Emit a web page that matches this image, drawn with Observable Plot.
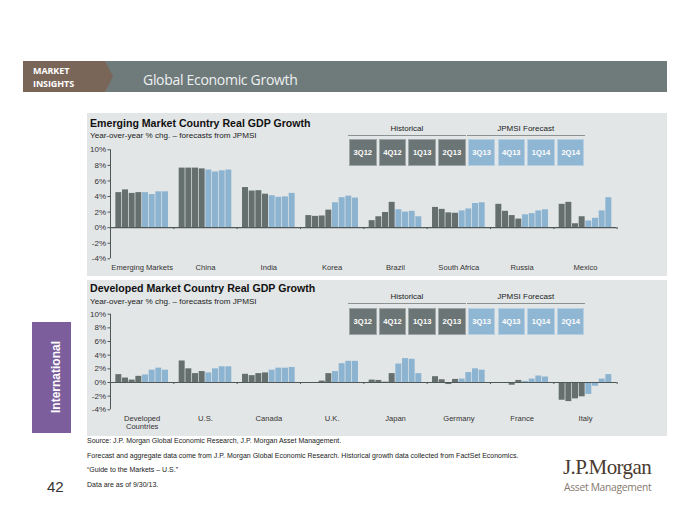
<!DOCTYPE html>
<html>
<head>
<meta charset="utf-8">
<script src="https://cdn.jsdelivr.net/npm/d3@7"></script>
<script src="https://cdn.jsdelivr.net/npm/@observablehq/plot@0.6"></script>
<style>
  html, body { margin: 0; padding: 0; background: #ffffff; }
  #page { position: relative; width: 700px; height: 525px; overflow: hidden; font-family: "Liberation Sans", Arial, sans-serif; color: #222; }
  .abs { position: absolute; }
  .panel { position: absolute; background: #e3e6e7; }
  .ptitle { position: absolute; font-weight: bold; font-size: 10.6px; color: #111; white-space: nowrap; }
  .psub { position: absolute; font-size: 8.1px; color: #222; white-space: nowrap; }
  .lghead { position: absolute; font-size: 8px; color: #222; text-align: center; border-bottom: 1.5px solid #8c9192; line-height: 10px; height: 11px; }
  .lgbox { position: absolute; color: #fff; font-weight: bold; font-size: 7.6px; display: flex; align-items: center; justify-content: center; box-sizing: border-box; border: 1px solid rgba(255,255,255,0.35); }
  .foot { position: absolute; left: 87px; font-size: 7px; line-height: 8px; color: #222; white-space: nowrap; }
  .mi { position: absolute; left: 33px; font-family: 'Open Sans', sans-serif; font-weight: bold; font-size: 9px; line-height: 12.5px; height: 12.5px; color: #fff; letter-spacing: -0.1px; white-space: nowrap; }
</style>
</head>
<body>
<div id="page"></div>
<script>
// ---------------- data ----------------
const quarters = ["3Q12", "4Q12", "1Q13", "2Q13", "3Q13", "4Q13", "1Q14", "2Q14"];
const historicalCount = 4; // 3Q12–2Q13 historical, rest JPMSI forecast
const legendGroups = ["Historical", "JPMSI Forecast"];

const emCountries = ["Emerging Markets", "China", "India", "Korea", "Brazil", "South Africa", "Russia", "Mexico"];
const emGrowth = [
  [4.5, 4.85, 4.4, 4.5, 4.5, 4.25, 4.6, 4.6],
  [7.65, 7.65, 7.65, 7.55, 7.4, 7.15, 7.3, 7.4],
  [5.15, 4.7, 4.75, 4.3, 4.1, 3.9, 3.95, 4.4],
  [1.55, 1.45, 1.5, 2.25, 3.2, 3.85, 4.05, 3.8],
  [0.9, 1.4, 1.95, 3.25, 2.3, 2.0, 2.1, 1.4],
  [2.6, 2.35, 1.9, 1.85, 2.15, 2.4, 3.1, 3.2],
  [3.0, 2.1, 1.55, 1.1, 1.65, 1.8, 2.15, 2.3],
  [3.0, 3.25, 0.5, 1.4, 0.85, 1.2, 2.15, 3.85]
];

const dmCountries = ["Developed\nCountries", "U.S.", "Canada", "U.K.", "Japan", "Germany", "France", "Italy"];
const dmGrowth = [
  [1.15, 0.65, 0.35, 0.9, 1.1, 1.8, 2.1, 1.8],
  [3.15, 2.0, 1.3, 1.6, 1.4, 2.0, 2.3, 2.3],
  [1.2, 1.0, 1.3, 1.4, 1.8, 2.1, 2.1, 2.2],
  [0.0, -0.1, 0.2, 1.3, 1.6, 2.75, 3.1, 3.1],
  [0.35, 0.3, 0.05, 1.3, 2.7, 3.5, 3.4, 1.3],
  [0.85, 0.4, -0.3, 0.45, 0.5, 1.45, 2.0, 1.8],
  [0.0, -0.15, -0.4, 0.3, 0.15, 0.5, 0.95, 0.8],
  [-2.6, -2.8, -2.4, -2.1, -1.75, -0.55, 0.5, 1.15]
];

const yTicks = [-4, -2, 0, 2, 4, 6, 8, 10];

const footnotes = [
  "Source: J.P. Morgan Global Economic Research, J.P. Morgan Asset Management.",
  "Forecast and aggregate data come from J.P. Morgan Global Economic Research. Historical growth data collected from FactSet Economics.",
  "\u201cGuide to the Markets \u2013 U.S.\u201d",
  "Data are as of 9/30/13."
];

// ---------------- styling ----------------
const HIST = "#646f6e";
const FCST = "#8cb4d1";
const AXIS = "#4f5757";
const SLOT = 9.5;   // 8 bars + 1.5 bar-widths of gap per country group
const PAD = 0.75;

const page = document.getElementById("page");
function el(tag, cls, style, html) {
  const e = document.createElement(tag);
  if (cls) e.className = cls;
  if (style) e.setAttribute("style", style);
  if (html != null) e.textContent = html;
  page.appendChild(e);
  return e;
}

// header band
el("div", "abs", "left:23px;top:61px;width:644px;height:31px;background:#6f7b7b;");
el("div", "abs", "left:23px;top:61px;width:90px;height:31px;background:#7a6559;clip-path:polygon(0 0,82px 0,90px 50%,82px 100%,0 100%);");
el("div", "mi", "top:65px;", "MARKET");
el("div", "mi", "top:78px;", "INSIGHTS");
el("div", "abs", "left:143px;top:71px;font-family:'Open Sans',sans-serif;font-size:14px;line-height:18px;color:#eef0f0;letter-spacing:-0.3px;", "Global Economic Growth");

// side tab & page number
el("div", "abs", "left:32px;top:322px;width:39px;height:111px;background:#7b5e9b;");
el("div", "abs", "left:52px;top:377px;transform:translate(-50%,-50%) rotate(-90deg);transform-origin:center;font-weight:bold;font-size:12px;color:#fff;white-space:nowrap;margin-left:4px;", "International");
el("div", "abs", "left:47px;top:478px;font-size:15px;color:#333;", "42");

// logo
el("div", "abs", "left:563px;top:455px;font-family:'Liberation Serif','Times New Roman',serif;font-size:21px;color:#4a3a31;letter-spacing:-0.6px;white-space:nowrap;", "J.P.Morgan");
el("div", "abs", "left:564px;top:480px;font-family:'Open Sans',sans-serif;font-size:10.3px;color:#85796f;letter-spacing:-0.3px;white-space:nowrap;", "Asset Management");

// footnotes
const footTops = [437, 452, 466, 481];
footnotes.forEach((t, i) => el("div", "foot", `top:${footTops[i]}px;`, t));

function legend(yHead, yBox) {
  const x0 = 349, step = 29.7, w = 27.6;
  legendGroups.forEach((g, gi) => {
    const left = x0 + gi * historicalCount * step - 1;
    el("div", "lghead", `left:${left}px;top:${yHead}px;width:${historicalCount * step - 1}px;`, g);
  });
  quarters.forEach((q, i) => {
    el("div", "lgbox", `left:${x0 + i * step}px;top:${yBox}px;width:${w}px;height:27px;background:${i < historicalCount ? "#6b7575" : "#8fb6d3"};`, q);
  });
}

function chart(countries, growth, opts) {
  const rows = countries.flatMap((c, g) => growth[g].map((v, q) => ({
    g, q, v, c, quarter: quarters[q],
    x1: g * SLOT + PAD + q,
    x2: g * SLOT + PAD + q + 1,
    kind: q < historicalCount ? "Historical" : "JPMSI Forecast"
  })));
  const centers = countries.map((c, g) => g * SLOT + SLOT / 2);
  const seps = d3.range(countries.length + 1).map(i => i * SLOT);
  const label = d => countries[Math.round((d - SLOT / 2) / SLOT)];
  return Plot.plot({
    width: 700,
    height: opts.height,
    marginLeft: 110,
    marginRight: 700 - 110 - 506.67,
    marginTop: opts.marginTop,
    marginBottom: opts.marginBottom,
    style: { background: "transparent", fontFamily: "'Liberation Sans', Arial, sans-serif", fontSize: "7.6px", color: "#333", overflow: "visible" },
    x: { type: "linear", domain: [0, countries.length * SLOT] },
    y: { domain: [-4, 10] },
    color: { domain: ["Historical", "JPMSI Forecast"], range: [HIST, FCST] },
    marks: [
      Plot.rectY(rows, { x1: "x1", x2: "x2", y1: 0, y2: "v", fill: "kind", insetLeft: 0.35, insetRight: 0.35 }),
      Plot.ruleY([0], { stroke: AXIS, strokeWidth: 1.2 }),
      Plot.ruleX(seps, { y1: 0, y2: opts.sepLen, stroke: AXIS, strokeWidth: 1 }),
      Plot.ruleX([0], { y1: -4, y2: 10, stroke: AXIS, strokeWidth: 1 }),
      Plot.axisY(yTicks, { tickFormat: d => d + "%", tickSize: 2.5, tickPadding: 2, stroke: AXIS, fontSize: 8, label: null }),
      Plot.axisX(centers, { tickFormat: label, tickSize: 0, tickPadding: 5, lineHeight: 1.07, label: null })
    ]
  });
}

// ---------- panel 1: emerging markets ----------
el("div", "panel", "left:87px;top:113px;width:580px;height:163px;");
el("div", "ptitle", "left:90px;top:117px;", "Emerging Market Country Real GDP Growth");
el("div", "psub", "left:90px;top:131px;", "Year-over-year % chg. \u2013 forecasts from JPMSI");
legend(124, 139);
const c1 = chart(emCountries, emGrowth, { height: 140, marginTop: 9.3, marginBottom: 21.7, sepLen: -0.25 });
const w1 = el("div", "abs", "left:0;top:140px;");
w1.appendChild(c1);

// ---------- panel 2: developed markets ----------
el("div", "panel", "left:87px;top:280px;width:580px;height:156px;");
el("div", "ptitle", "left:90px;top:281.5px;", "Developed Market Country Real GDP Growth");
el("div", "psub", "left:90px;top:297px;", "Year-over-year % chg. \u2013 forecasts from JPMSI");
legend(292, 307.5);
const c2 = chart(dmCountries, dmGrowth, { height: 130, marginTop: 8.7, marginBottom: 25.7, sepLen: -0.3 });
const w2 = el("div", "abs", "left:0;top:305px;");
w2.appendChild(c2);
</script>
</body>
</html>
